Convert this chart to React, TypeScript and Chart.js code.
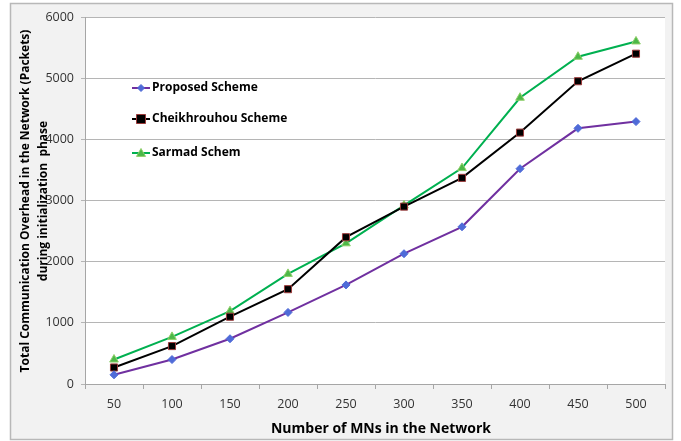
import React, { useEffect, useRef } from "react";
import { Chart, registerables } from "chart.js";

Chart.register(...registerables);

const categories = ["50", "100", "150", "200", "250", "300", "350", "400", "450", "500"];
const proposed = [150, 400, 740, 1170, 1620, 2130, 2570, 3520, 4180, 4290];
const cheikhrouhou = [270, 620, 1100, 1550, 2400, 2900, 3370, 4110, 4950, 5400];
const sarmad = [400, 770, 1190, 1800, 2300, 2920, 3530, 4680, 5350, 5600];
const seriesNames = ["Proposed Scheme", "Cheikhrouhou Scheme", "Sarmad Schem"];
const yMin = 0;
const yMax = 6000;
const yStep = 1000;
const xTitle = "Number of MNs in the Network";
const yTitle = ["Total Communication Overhead in the Network (Packets)", "during initialization  phase"];

const FONT = "'Open Sans', 'Liberation Sans', sans-serif";

const styles = [
  { line: "#7030a0", fill: "#4f6bd8", border: "#4f6bd8", shape: "diamond", r: 4 },
  { line: "#000000", fill: "#000000", border: "#9b3a3a", shape: "square", r: 5 },
  { line: "#00b050", fill: "#4cb848", border: "#8fcf6a", shape: "triangle", r: 5 },
];

function drawMarker(ctx: CanvasRenderingContext2D, shape: string, x: number, y: number, r: number, fill: string, border: string) {
  ctx.save();
  ctx.beginPath();
  if (shape === "diamond") {
    ctx.moveTo(x, y - r);
    ctx.lineTo(x + r, y);
    ctx.lineTo(x, y + r);
    ctx.lineTo(x - r, y);
    ctx.closePath();
  } else if (shape === "square") {
    ctx.rect(x - r, y - r, 2 * r, 2 * r);
  } else {
    ctx.moveTo(x, y - r);
    ctx.lineTo(x + r, y + r * 0.75);
    ctx.lineTo(x - r, y + r * 0.75);
    ctx.closePath();
  }
  ctx.fillStyle = fill;
  ctx.fill();
  ctx.lineWidth = 1;
  ctx.strokeStyle = border;
  ctx.stroke();
  ctx.restore();
}

const framePlugin = {
  id: "frame",
  beforeDraw(chart: any) {
    const ctx = chart.ctx as CanvasRenderingContext2D;
    const a = chart.chartArea;
    ctx.save();
    ctx.fillStyle = "#f2f2f2";
    ctx.fillRect(10, 3, 663, 437);
    ctx.strokeStyle = "#b8b8b8";
    ctx.lineWidth = 1.5;
    ctx.strokeRect(10.5, 3.5, 662, 436);
    ctx.fillStyle = "#ffffff";
    ctx.fillRect(a.left, a.top, a.right - a.left, a.bottom - a.top);
    ctx.restore();
  },
};

const legendPlugin = {
  id: "customLegend",
  afterDatasetsDraw(chart: any) {
    const ctx = chart.ctx as CanvasRenderingContext2D;
    const a = chart.chartArea;
    const x0 = a.left + 47;
    const ys = [a.top + 71, a.top + 102, a.top + 136];
    ctx.save();
    seriesNames.forEach((name, i) => {
      const s = styles[i];
      const y = ys[i];
      ctx.strokeStyle = s.line;
      ctx.lineWidth = 2;
      ctx.beginPath();
      ctx.moveTo(x0, y);
      ctx.lineTo(x0 + 18, y);
      ctx.stroke();
      drawMarker(ctx, s.shape, x0 + 9, y, s.r - 0.5, s.fill, s.border);
      ctx.fillStyle = "#000000";
      ctx.font = `bold 12px ${FONT}`;
      ctx.textAlign = "left";
      ctx.textBaseline = "middle";
      ctx.fillText(name, x0 + 20, y);
    });
    ctx.restore();
  },
};

const titlePlugin = {
  id: "axisTitles",
  afterDraw(chart: any) {
    const ctx = chart.ctx as CanvasRenderingContext2D;
    const a = chart.chartArea;
    ctx.save();
    ctx.fillStyle = "#000000";
    ctx.textAlign = "center";
    ctx.textBaseline = "middle";
    ctx.font = `bold 14px ${FONT}`;
    ctx.fillText(xTitle, (a.left + a.right) / 2 + 6, 429);
    ctx.translate(0, 201);
    ctx.rotate(-Math.PI / 2);
    ctx.font = `bold 12px ${FONT}`;
    ctx.fillText(yTitle[0], 0, 26);
    ctx.fillText(yTitle[1], 0, 44);
    ctx.restore();
  },
};

export default function App() {
  const ref = useRef<HTMLCanvasElement | null>(null);
  useEffect(() => {
    if (!ref.current) return;
    const data = [proposed, cheikhrouhou, sarmad];
    const chart = new Chart(ref.current, {
      type: "line",
      data: {
        labels: categories,
        datasets: data.map((d, i) => ({
          label: seriesNames[i],
          data: d,
          borderColor: styles[i].line,
          borderWidth: 2,
          backgroundColor: styles[i].fill,
          pointBackgroundColor: styles[i].fill,
          pointBorderColor: styles[i].border,
          pointBorderWidth: 1,
          pointRadius: styles[i].r,
          pointStyle: i === 0 ? "rectRot" : i === 1 ? "rect" : "triangle",
          tension: 0,
          fill: false,
        })),
      },
      options: {
        animation: false,
        responsive: false,
        devicePixelRatio: 1,
        layout: { padding: { left: 0, right: 16, top: 17, bottom: 0 } },
        plugins: { legend: { display: false }, tooltip: { enabled: false } },
        scales: {
          x: {
            type: "category",
            offset: true,
            grid: { offset: true, drawOnChartArea: false, drawTicks: true, tickLength: 5, color: "#a6a6a6" },
            border: { color: "#a6a6a6", width: 1 },
            ticks: { color: "#333333", font: { family: FONT, size: 12.5 }, padding: 8, maxRotation: 0 },
            afterFit: (s: any) => { s.height = 57; },
          },
          y: {
            min: yMin,
            max: yMax,
            grid: { color: "#b5b5b5", tickLength: 4, drawTicks: true },
            border: { color: "#a6a6a6", width: 1 },
            ticks: {
              stepSize: yStep,
              color: "#333333",
              font: { family: FONT, size: 12.5 },
              padding: 7,
              callback: (v: any) => String(v),
            },
            afterFit: (s: any) => { s.width = 85; },
          },
        },
      },
      plugins: [framePlugin, legendPlugin, titlePlugin],
    } as any);
    return () => chart.destroy();
  }, []);
  return (
    <div style={{ position: "fixed", left: 0, top: 0, width: 681, height: 441 }}>
      <canvas ref={ref} width={681} height={441} style={{ width: 681, height: 441, display: "block" }} />
    </div>
  );
}
